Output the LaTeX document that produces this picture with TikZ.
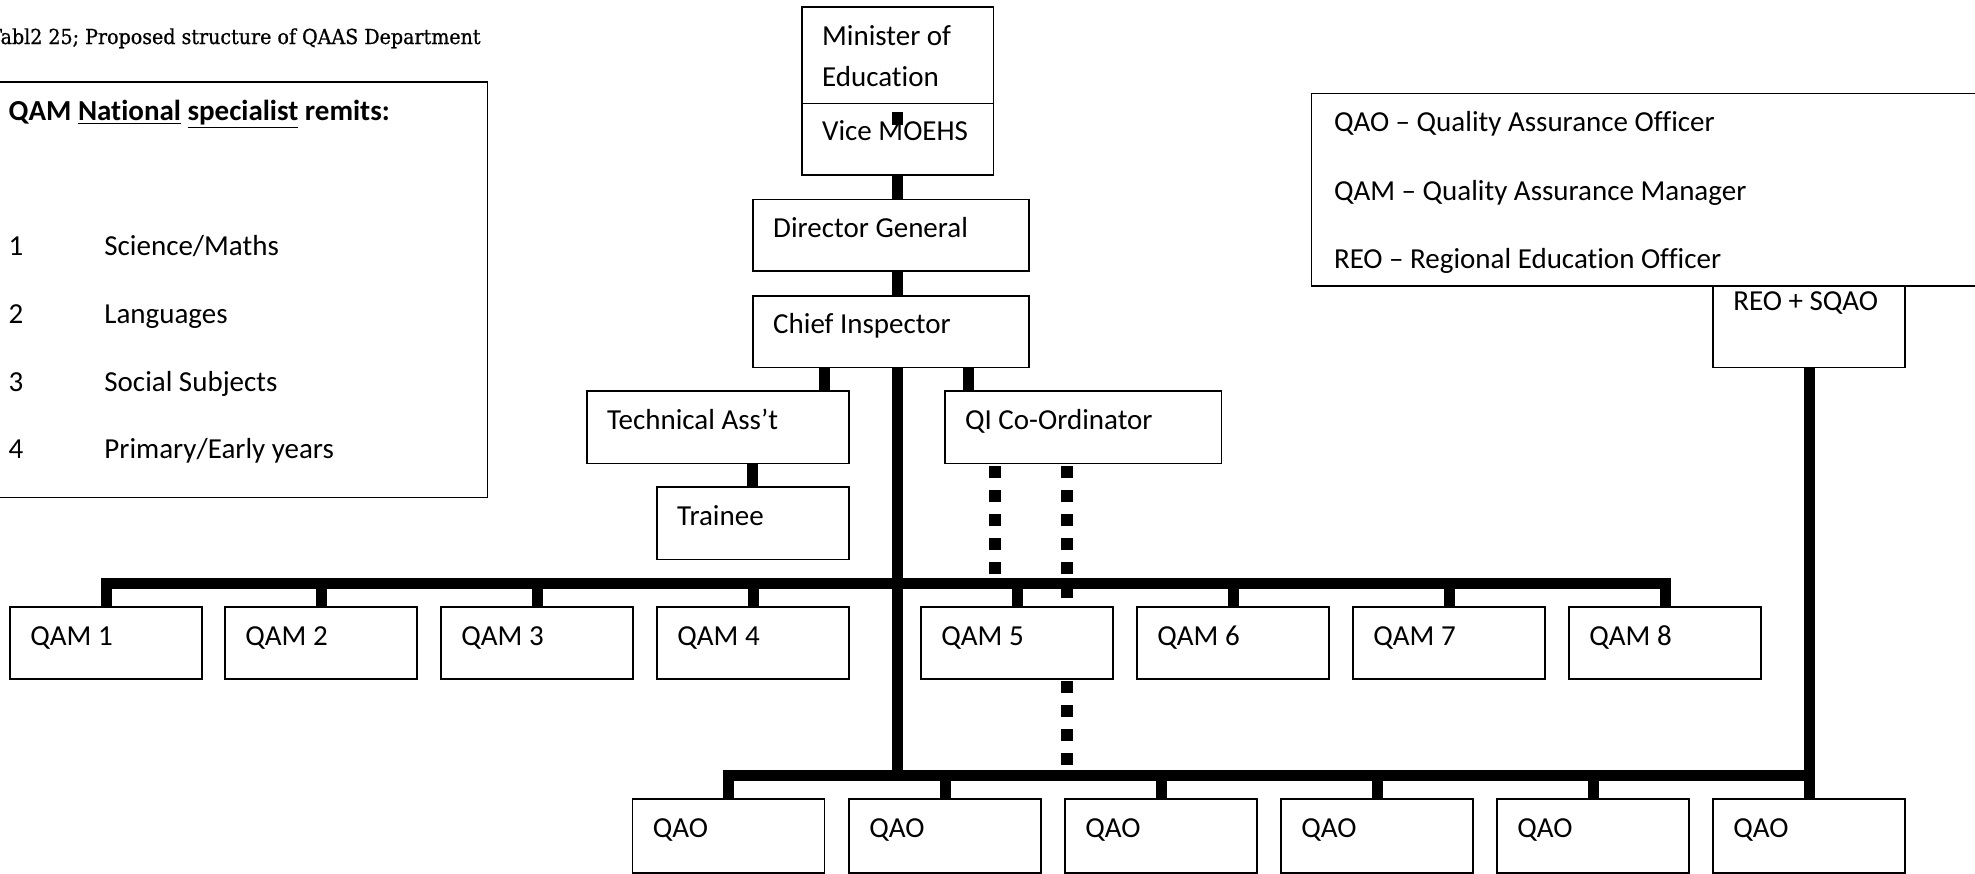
\documentclass[tikz,border=0pt]{standalone}
\usepackage{fontspec}
\setsansfont{Carlito}[Ligatures={TeX,NoCommon}]
\newfontfamily\captionfont{DejaVu Serif}[FakeBold=0.8]
\usetikzlibrary{calc}

% one unit = one pixel of the drawing, y grows downwards
\tikzset{
  x=0.5pt, y=-0.5pt,
  unit/.style={draw, line width=0.8pt, fill=white, rectangle, inner sep=0pt,
               outer sep=0pt, anchor=north west},
  unitlabel/.style={font=\sffamily\fontsize{14.5}{20}\selectfont, inner sep=0pt,
               anchor=base west},
  solidlink/.style={line width=5.5pt, line cap=butt},
  buslink/.style={line width=5.5pt, line cap=rect},
  dotlink/.style={line width=6pt, line cap=butt, dash pattern=on 6pt off 6pt},
}

% \orgunit{name}{left}{top}{width}{height}{label}
\newcommand\orgunit[6]{%
  \node[unit, minimum width=#4*0.5pt, minimum height=#5*0.5pt] (#1) at (#2,#3) {};
  \node[unitlabel] (#1-text) at ($(#1.north west)+(20,38)$) {#6};}

\newlength\titlewd
\newcommand\titlesize{\captionfont\fontsize{10.3}{12}\selectfont}

\begin{document}
\settowidth\titlewd{\titlesize abl2 25; Proposed structure of QAAS Department}
\pgfmathsetmacro\titlesx{240pt/\titlewd}
\begin{tikzpicture}
\clip (0,0) rectangle (1975,873);
\fill[white] (0,0) rectangle (1975,873);

% caption
\node[inner sep=0pt, anchor=base east] (caption) at (481,44)
  {\scalebox{\titlesx}[1]{\titlesize Tabl2 25; Proposed structure of QAAS Department}};

% remits box
\node[unit, minimum width=497.3*0.5pt, minimum height=415.6*0.5pt] (remits) at (-10,81.7) {};
\node[unitlabel] (remits-head) at (8.3,120)
  {\bfseries QAM \underline{National} \underline{specialist} remits:};
\node[unitlabel] (r1n) at (8.3,255)   {1};
\node[unitlabel] (r1)  at (104,255)   {Science/Maths};
\node[unitlabel] (r2n) at (8.3,323.3) {2};
\node[unitlabel] (r2)  at (104,323.3) {Languages};
\node[unitlabel] (r3n) at (8.3,391.7) {3};
\node[unitlabel] (r3)  at (104,391.7) {Social Subjects};
\node[unitlabel] (r4n) at (8.3,458.3) {4};
\node[unitlabel] (r4)  at (104,458.3) {Primary/Early years};

% minister / vice minister
\node[unit, minimum width=191.6*0.5pt, minimum height=168.3*0.5pt] (min) at (801.7,6.7) {};
\draw[line width=0.8pt] ($(min.north west)+(0,96.6)$) -- ($(min.north east)+(0,96.6)$);
\node[unitlabel] (min-text1) at ($(min.north west)+(20,39)$) {Minister of};
\node[unitlabel] (min-text2) at ($(min.north west)+(20,79.3)$) {Education};
\node[unitlabel] (vice-text) at ($(min.north west)+(20,133.3)$) {Vice MOEHS};
\coordinate (spine) at (897,0);
\coordinate (stubtop) at (spine |- 0,111.7);
\coordinate (stubbot) at (spine |- 0,125);
\draw[solidlink] (stubtop) -- (stubbot);

\orgunit{dg}{752.8}{199.3}{275.9}{71.7}{Director General}
\orgunit{ci}{752.8}{295.7}{275.9}{71.6}{Chief Inspector}
\orgunit{tech}{586.7}{391}{262.5}{72.5}{Technical Ass’t}
\orgunit{qi}{944.7}{391}{276.8}{72.5}{QI Co-Ordinator}
\orgunit{trainee}{656.8}{487}{192.4}{72.3}{Trainee}

% regional office (its top edge lies under the legend)
\orgunit{reo}{1713}{272}{192}{95.3}{REO + SQAO}

% legend
\node[unit, minimum width=700*0.5pt, minimum height=192.4*0.5pt] (legend) at (1311.6,93.3) {};
\node[unitlabel] (leg1) at ($(legend.north west)+(22,38.4)$) {QAO – Quality Assurance Officer};
\node[unitlabel] (leg2) at ($(legend.north west)+(22,106.7)$) {QAM – Quality Assurance Manager};
\node[unitlabel] (leg3) at ($(legend.north west)+(22,174.7)$) {REO – Regional Education Officer};

% managers
\foreach \i/\l in {1/10,2/225,3/441,4/657,5/921,6/1137,7/1353,8/1569}
  {\orgunit{qam\i}{\l}{607}{192}{72}{QAM \i}}

% officers
\foreach \i/\l in {1/632.5,2/849,3/1065,4/1281,5/1497,6/1713}
  {\orgunit{qao\i}{\l}{799}{192}{74}{QAO}}

\coordinate (qambus) at (0,583);
\coordinate (qaobus) at (0,775);

% line management
\draw[solidlink] (spine |- min.south) -- (spine |- dg.north);
\draw[solidlink] (spine |- dg.south) -- (spine |- ci.north);
\draw[solidlink] (spine |- ci.south) -- (spine |- qaobus);
\draw[solidlink] (824.6,0 |- ci.south) -- (824.6,0 |- tech.north);
\draw[solidlink] (968.8,0 |- ci.south) -- (968.8,0 |- qi.north);
\draw[solidlink] (752.8,0 |- tech.south) -- (752.8,0 |- trainee.north);

% manager bus
\draw[buslink] (qam1.north |- qambus) -- (qam8.north |- qambus);
\foreach \i in {1,...,8}
  \draw[solidlink] (qam\i.north |- qambus) -- (qam\i.north);

% officer bus
\draw[buslink] (qao1.north |- qaobus) -- (qao6.north |- qaobus);
\foreach \i in {1,...,5}
  \draw[solidlink] (qao\i.north |- qaobus) -- (qao\i.north);
\draw[solidlink] (reo.south) -- (qao6.north);

% quality-improvement links
\draw[dotlink, dash phase=10.75pt] (995,0 |- qi.south) -- (995,0 |- 0,577);
\draw[dotlink, dash phase=10.75pt] (1067,0 |- qi.south) -- (1067,0 |- qam5.north);
\draw[dotlink, dash phase=11pt] (1067,0 |- qam5.south) -- (1067,0 |- 0,769);
\end{tikzpicture}
\end{document}
